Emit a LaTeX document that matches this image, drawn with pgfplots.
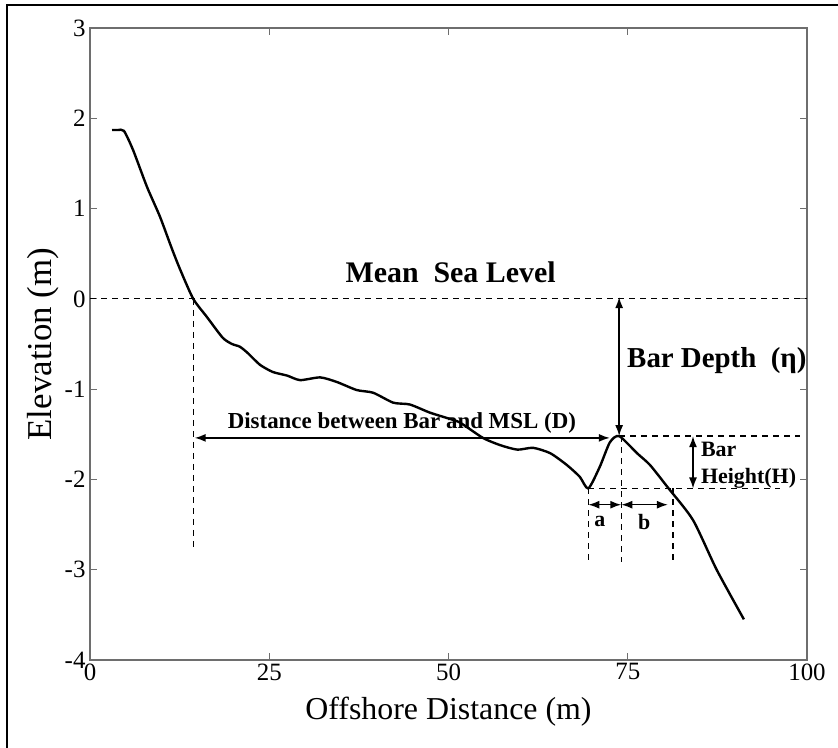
\documentclass[border=0pt]{standalone}
\usepackage{pgfplots}
\pgfplotsset{compat=1.18}
\usepackage{fontspec}
\setmainfont{Liberation Serif}
\usetikzlibrary{arrows.meta}
\definecolor{axgray}{RGB}{110,110,110}
\tikzset{
  dashln/.style={black, line width=1.2bp, dash pattern=on 6bp off 5bp},
  arr/.style={black, line width=1.5bp, {Latex[length=11bp,width=8bp]}-{Latex[length=11bp,width=8bp]}},
}
\begin{document}
\begin{tikzpicture}
\useasboundingbox (-90bp,-88bp) rectangle (748bp,660bp);
\draw[line width=2.2bp] (-83bp,-92bp) -- (-83bp,655bp) -- (752bp,655bp);
\begin{axis}[
  at={(0,0)}, anchor=south west,
  scale only axis, width=717bp, height=632bp,
  xmin=0, xmax=100, ymin=-4, ymax=3,
  xtick={0,25,50,75,100}, xticklabels={0,25,50,75,100},
  ytick={-4,-3,-2,-1,0,1,2,3}, yticklabels={-4,-3,-2,-1,0,1,2,3},
  tick align=inside, major tick length=7bp,
  axis line style={axgray, line width=1.6bp},
  every tick/.style={axgray, line width=1.2bp},
  tick label style={font=\fontsize{25}{25}\selectfont, text=black},
  yticklabel style={xshift=-1bp},
  xlabel={Offshore Distance (m)}, ylabel={Elevation (m)},
  xlabel style={font=\fontsize{32}{32}\selectfont, at={(axis description cs:0.5,-0.0823)}, anchor=center},
  ylabel style={font=\fontsize{35}{35}\selectfont, at={(axis description cs:-0.0656,0.5)}, anchor=center},
]
\addplot[black, line width=2.4bp, smooth, tension=0.4] coordinates {
(3.07,1.87) (3.9,1.87) (4.74,1.86) (6.0,1.65) (7.95,1.24) (9.76,0.91)
(11.4,0.56) (12.6,0.32) (14.4,0.0) (16.3,-0.20) (18.5,-0.43) (19.8,-0.50)
(20.9,-0.53) (22.0,-0.60) (23.7,-0.73) (25.5,-0.81) (27.5,-0.85) (29.3,-0.90)
(32.1,-0.87) (34.4,-0.92) (37.2,-1.01) (39.5,-1.04) (42.3,-1.15) (44.6,-1.17)
(47.4,-1.26) (49.8,-1.32) (51.6,-1.37) (54.8,-1.54) (57.2,-1.62) (59.6,-1.67)
(61.8,-1.65) (64.2,-1.71) (66.5,-1.84) (68.3,-1.97) (69.5,-2.10) (71.1,-1.86)
(72.5,-1.59) (73.8,-1.52) (76.3,-1.71) (78.1,-1.84) (80.6,-2.09) (84.1,-2.45)
(87.4,-3.00) (91.2,-3.55)
};
% dashed guide lines
\draw[dashln] (axis cs:0,0) -- (axis cs:100,0);
\draw[dashln] (axis cs:14.4,0) -- (axis cs:14.4,-2.78);
\draw[dashln] (axis cs:73.8,-1.52) -- (axis cs:99.0,-1.52);
\draw[dashln] (axis cs:69.5,-2.10) -- (axis cs:96.2,-2.10);
\draw[dashln] (axis cs:69.5,-2.10) -- (axis cs:69.5,-2.91);
\draw[dashln] (axis cs:74.1,-1.52) -- (axis cs:74.1,-2.92);
\draw[dashln] (axis cs:81.3,-2.10) -- (axis cs:81.3,-2.93);
% arrows
\draw[arr] (axis cs:14.6,-1.54) -- (axis cs:72.5,-1.54);
\draw[arr] (axis cs:73.8,0.02) -- (axis cs:73.8,-1.52);
\draw[arr] (axis cs:84.1,-1.52) -- (axis cs:84.1,-2.10);
\draw[arr] (axis cs:69.5,-2.28) -- (axis cs:74.1,-2.28);
\draw[arr] (axis cs:74.1,-2.28) -- (axis cs:80.6,-2.28);
% texts
\node[font=\bfseries\fontsize{30}{30}\selectfont] at (axis cs:50.3,0.29) {Mean\ \ Sea Level};
\node[anchor=west, inner sep=0pt, font=\bfseries\fontsize{29}{29}\selectfont] at (axis cs:74.9,-0.68) {Bar Depth\ \ (η)};
\node[font=\bfseries\fontsize{23}{23}\selectfont] at (axis cs:43.5,-1.37) {Distance between Bar and MSL (D)};
\node[anchor=west, inner sep=0pt, font=\bfseries\fontsize{22}{22}\selectfont] at (axis cs:85.2,-1.67) {Bar};
\node[anchor=west, inner sep=0pt, font=\bfseries\fontsize{22}{22}\selectfont] at (axis cs:85.2,-1.99) {Height(H)};
\node[font=\bfseries\fontsize{22}{22}\selectfont] at (axis cs:71.1,-2.47) {a};
\node[font=\bfseries\fontsize{22}{22}\selectfont] at (axis cs:77.3,-2.47) {b};
\end{axis}
\end{tikzpicture}
\end{document}
